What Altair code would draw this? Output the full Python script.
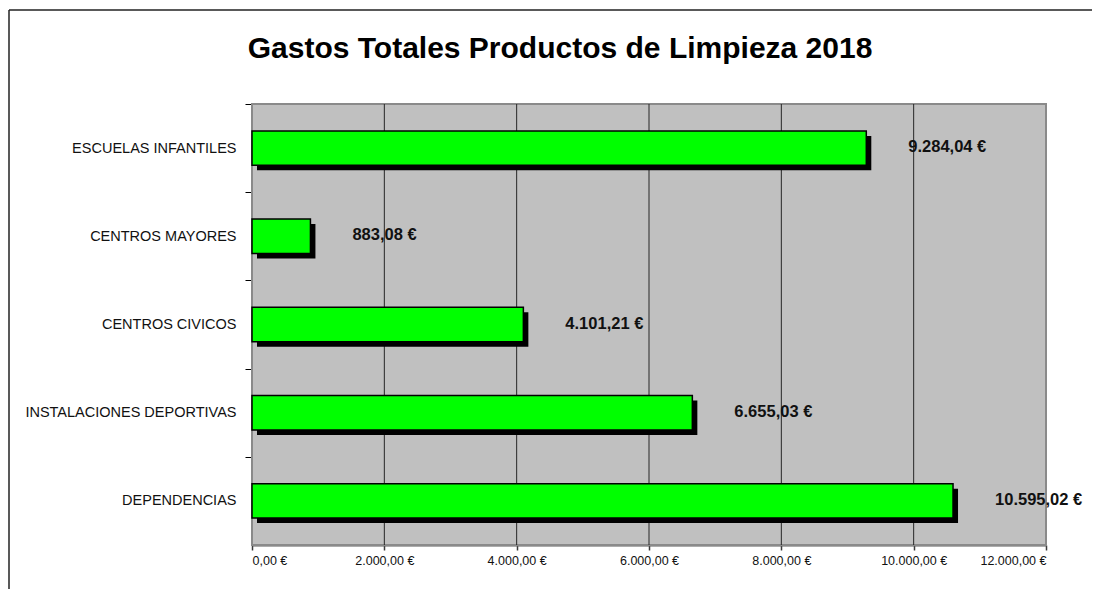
import altair as alt
import pandas as pd

categories = ["ESCUELAS INFANTILES", "CENTROS MAYORES", "CENTROS CIVICOS",
              "INSTALACIONES DEPORTIVAS", "DEPENDENCIAS"]
values = [9284.04, 883.08, 4101.21, 6655.03, 10595.02]
x_ticks = [0, 2000, 4000, 6000, 8000, 10000, 12000]
x_domain = [0, 12000]
title_text = "Gastos Totales Productos de Limpieza 2018"


def es_fmt(v):
    s = f"{v:,.2f}"
    s = s.replace(",", "#").replace(".", ",").replace("#", ".")
    return s + " €"


df = pd.DataFrame({
    "cat": categories,
    "val": values,
    "label": [es_fmt(v) for v in values],
})
bg_df = pd.DataFrame({"val": [x_domain[0]], "x1": [x_domain[1]]})
grid_df = pd.DataFrame({"val": x_ticks[1:-1]})
title_df = pd.DataFrame({"t": [title_text]})

label_expr = ("replace(replace(replace(format(datum.value, ',.2f'), ',', '#'), '.', ','), '#', '.') + '  €'")

x_scale = alt.Scale(domain=x_domain, nice=False)
x_axis = alt.Axis(values=x_ticks, labelExpr=label_expr, title=None,
                  grid=False,
                  domainColor="#5a5a5a", domainWidth=2,
                  tickColor="#3a3a3a", tickSize=5, tickWidth=1.5,
                  labelFont="Liberation Sans", labelFontSize=12.5,
                  labelColor="#111", labelPadding=4)
x_enc = alt.X("val:Q", scale=x_scale, axis=x_axis)
y_enc = alt.Y("cat:N", sort=categories,
              scale=alt.Scale(paddingInner=0.61, paddingOuter=0.305),
              axis=alt.Axis(title=None, grid=False, domainColor="#000",
                            domainWidth=1.5, tickColor="#000", tickSize=7,
                            tickOffset=-44.1, labelOffset=44.1,
                            tickWidth=1, labelLimit=400,
                            labelFont="Liberation Sans", labelFontSize=14.5,
                            labelColor="#111", labelPadding=9))

bg = alt.Chart(bg_df).mark_rect(color="#C0C0C0", stroke="#8a8a8a",
                                strokeWidth=2).encode(
    x=x_enc, x2="x1:Q")

grid = alt.Chart(grid_df).mark_rule(color="#262626", strokeWidth=1).encode(
    x=x_enc)

base = alt.Chart(df)

shadow = base.mark_bar(color="#000000", xOffset=5, x2Offset=5,
                       yOffset=5, y2Offset=5).encode(
    x=x_enc, x2=alt.X2(datum=0), y=y_enc)
bars = base.mark_bar(color="#00FF00", stroke="#000000", strokeWidth=1.5).encode(
    x=x_enc, y=y_enc)
texts = base.mark_text(align="left", baseline="middle", dx=42, dy=-1,
                       font="Liberation Sans", fontSize=16.5,
                       fontWeight="bold", color="#111").encode(
    x="val:Q", y=alt.Y("cat:N", sort=categories), text="label:N")

title = alt.Chart(title_df).mark_text(
    align="center", baseline="alphabetic", font="Liberation Sans",
    fontSize=30, fontWeight="bold", color="#000").encode(
    x=alt.value(308), y=alt.value(-46), text="t:N")

left_border = alt.Chart(title_df).mark_rule(color="#222", strokeWidth=1.5).encode(
    x=alt.value(-243), y=alt.value(-94), y2=alt.value(600))
top_border = alt.Chart(title_df).mark_rule(color="#222", strokeWidth=1.5).encode(
    x=alt.value(-243), x2=alt.value(900), y=alt.value(-94))

chart = alt.layer(bg, grid, shadow, bars, texts, title, left_border, top_border).properties(
    width=794, height=441,
    autosize=alt.AutoSizeParams(type="none"),
    padding={"left": 244, "top": 96, "right": 46, "bottom": 44},
).configure_view(stroke=None
).configure(background="#FFFFFF")

chart.save("out.html", embed_options={"renderer": "svg", "actions": False})
